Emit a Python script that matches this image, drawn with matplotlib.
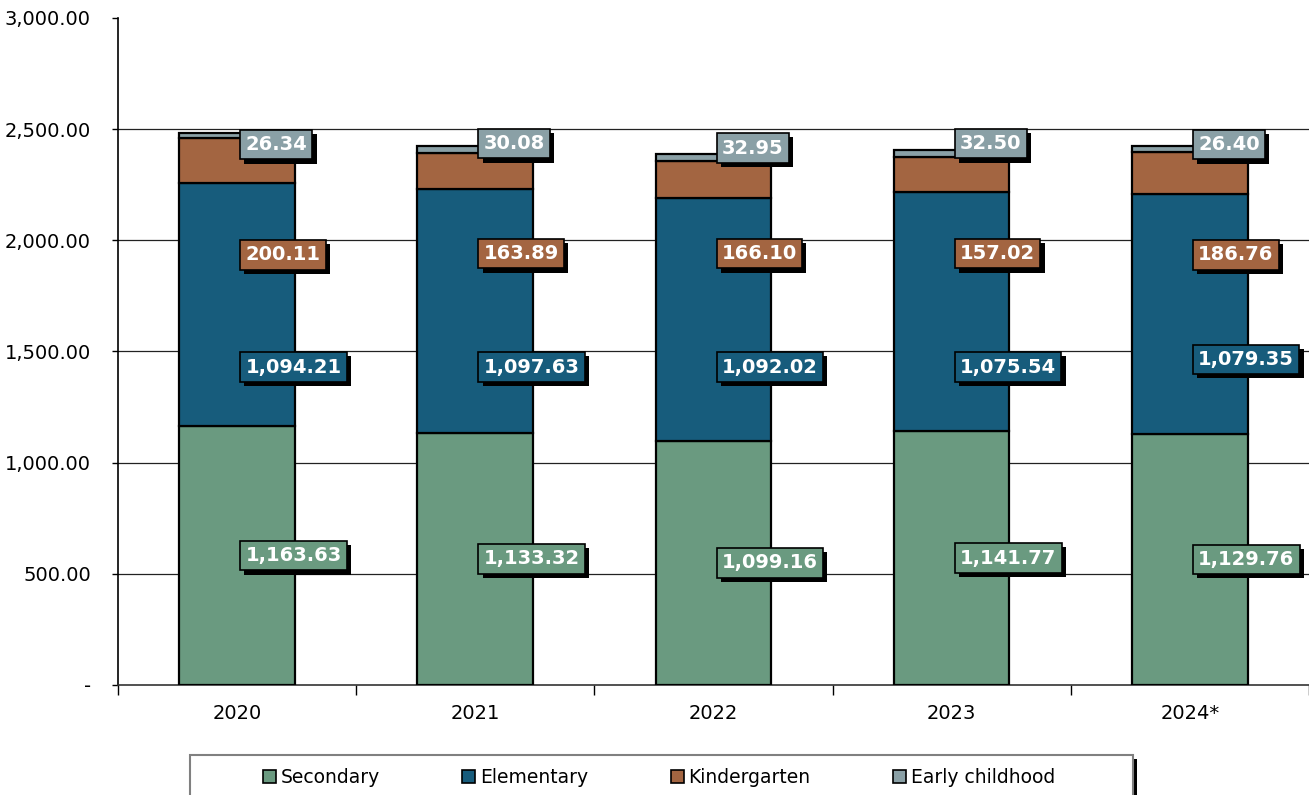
import matplotlib
matplotlib.use("Agg")
import matplotlib.pyplot as plt
import matplotlib.patheffects as pe
from matplotlib.patches import Rectangle
from matplotlib.ticker import FuncFormatter, FixedLocator
import numpy as np

years = ["2020", "2021", "2022", "2023", "2024*"]
series = ["Secondary", "Elementary", "Kindergarten", "Early childhood"]
secondary = [1163.63, 1133.32, 1099.16, 1141.77, 1129.76]
elementary = [1094.21, 1097.63, 1092.02, 1075.54, 1079.35]
kindergarten = [200.11, 163.89, 166.10, 157.02, 186.76]
early = [26.34, 30.08, 32.95, 32.50, 26.40]

colors = ["#6A9A80", "#175C7C", "#A36541", "#8AA0A6"]

# y where each data label sits (labels are placed by hand in the original)
label_y = {
    "Elementary": [1430, 1430, 1430, 1430, 1465],
    "Kindergarten": [1935, 1940, 1940, 1940, 1935],
    "Early childhood": [2430, 2435, 2415, 2435, 2430],
}

fig = plt.figure(figsize=(13.09, 7.95), dpi=100)
ax = fig.add_axes([0.0901, 0.1384, 0.9099, 0.839])

x = np.arange(len(years))
values = [secondary, elementary, kindergarten, early]
bottom = np.zeros(len(years))
for name, vals, col in zip(series, values, colors):
    vals = np.array(vals)
    ax.bar(x, vals, 0.485, bottom=bottom, color=col, edgecolor="black",
           linewidth=1.6, label=name, zorder=3)
    if name == "Secondary":
        ys = bottom + vals / 2
    else:
        ys = label_y[name]
    for xi, yi, v in zip(x, ys, vals):
        t = ax.text(xi + 0.035, yi, f"{v:,.2f}", ha="left", va="center",
                    color="white", fontsize=14, fontweight="bold", zorder=5,
                    bbox=dict(boxstyle="square,pad=0.27", facecolor=col,
                              edgecolor="black", linewidth=1.2))
        t.get_bbox_patch().set_path_effects([
            pe.SimplePatchShadow(offset=(3, -3), shadow_rgbFace="black", alpha=1),
            pe.Normal()])
    bottom = bottom + vals

ax.set_xlim(-0.5, len(years) - 0.5)
ax.set_ylim(0, 3000)
ax.set_yticks(np.arange(0, 3001, 500))
ax.yaxis.set_major_formatter(FuncFormatter(lambda v, p: "-" if v == 0 else f"{v:,.2f}"))
for yv in range(500, 3000, 500):
    ax.axhline(yv, color="#222222", linewidth=0.9, zorder=1)

ax.set_xticks(x)
ax.set_xticklabels(years)
ax.xaxis.set_minor_locator(FixedLocator(np.arange(-0.5, len(years), 1.0)))
ax.tick_params(axis="x", which="major", length=0, pad=14, labelsize=14)
ax.tick_params(axis="x", which="minor", length=7, direction="out", width=1)
ax.tick_params(axis="y", length=4.5, direction="out", width=1, labelsize=14, pad=15)

for s in ["top", "right"]:
    ax.spines[s].set_visible(False)
ax.spines["left"].set_linewidth(1.2)
ax.spines["bottom"].set_linewidth(1.2)
ax.spines["bottom"].set_color("#333333")

# legend box with a black shadow on the right
lx0, lx1, ly1 = 190 / 1309, 1133 / 1309, 1 - 755 / 795
fig.patches.append(Rectangle((lx0 + 4 / 1309, -0.05), lx1 - lx0, ly1 + 0.05 - 4 / 795,
                             transform=fig.transFigure, facecolor="black",
                             edgecolor="none", zorder=1))
fig.patches.append(Rectangle((lx0, -0.05), lx1 - lx0, ly1 + 0.05,
                             transform=fig.transFigure, facecolor="white",
                             edgecolor="#808080", linewidth=1.5, zorder=2))
handles, labels = ax.get_legend_handles_labels()
leg = fig.legend(handles, labels, ncol=4, loc="center",
                 bbox_to_anchor=((lx0 + lx1) / 2 - 0.002, ly1 / 2 - 0.003),
                 frameon=False, fontsize=13.5, columnspacing=4.4,
                 handlelength=0.7, handleheight=0.7, handletextpad=0.25,
                 borderaxespad=0)
for h in leg.legend_handles:
    h.set_linewidth(1.2)
leg.set_zorder(3)

fig.savefig("out.png", dpi=100)
